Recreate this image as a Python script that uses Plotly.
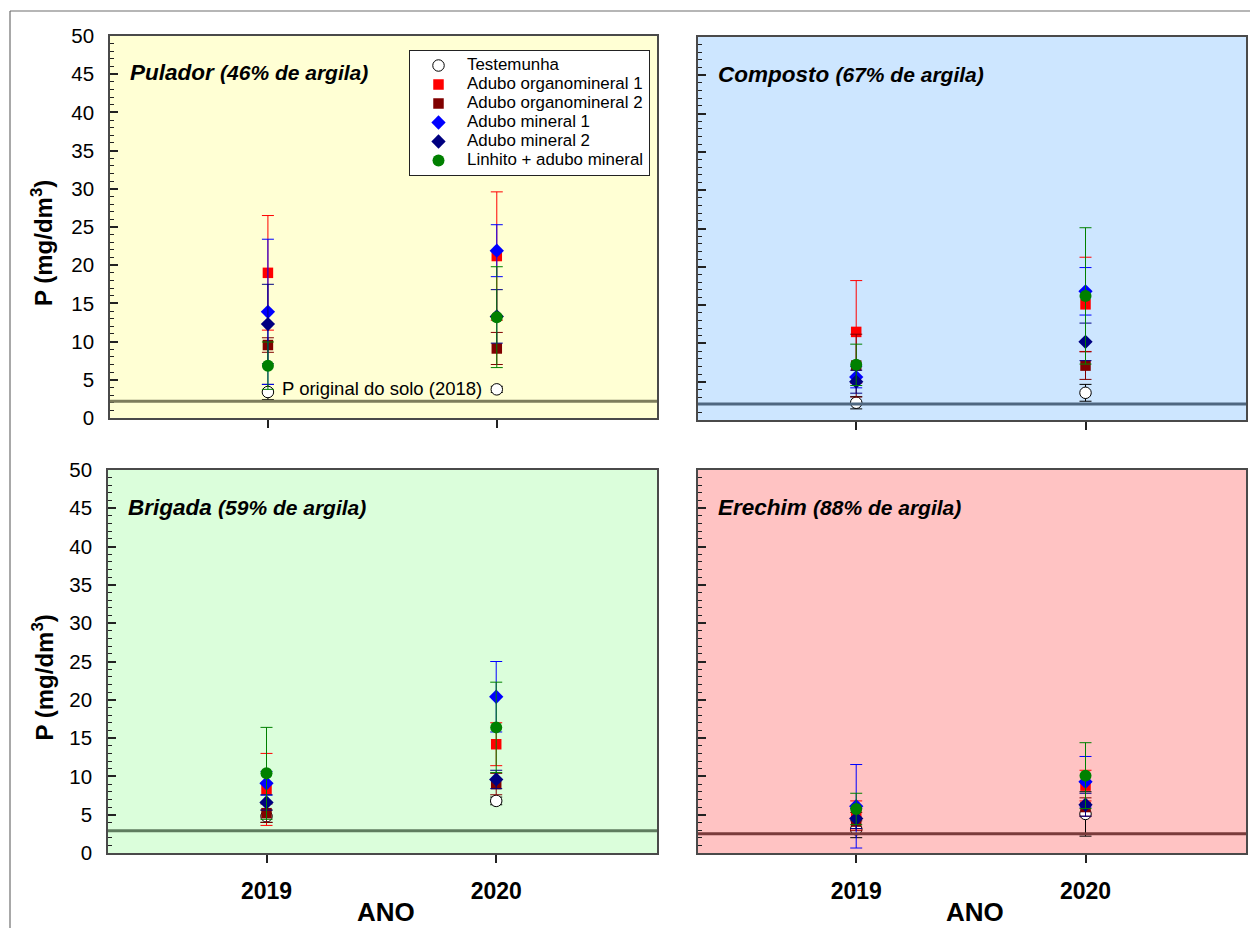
import plotly.graph_objects as go

# ---- data -------------------------------------------------------------
years = [2019, 2020]
tick_labels = ["2019", "2020"]

treatments = [
    "Testemunha",
    "Adubo organomineral 1",
    "Adubo organomineral 2",
    "Adubo mineral 1",
    "Adubo mineral 2",
    "Linhito + adubo mineral",
]

# P (mg/dm3) per site: one [2019, 2020] pair per treatment, plus error half-widths
pulador_mean = [[3.4, 3.75], [19.0, 21.2], [9.55, 9.1], [13.9, 21.9], [12.3, 13.3], [6.85, 13.2]]
pulador_err = [[1.0, 0.4], [7.5, 8.4], [0.95, 2.1], [9.5, 3.4], [5.2, 3.5], [3.1, 6.6]]

composto_mean = [[2.25, 3.55], [11.5, 15.1], [7.1, 7.1], [5.6, 16.8], [5.0, 10.2], [7.2, 16.2]]
composto_err = [[0.8, 1.1], [6.7, 6.15], [4.1, 1.8], [1.4, 3.1], [1.5, 2.45], [2.7, 8.9]]

brigada_mean = [[4.8, 6.8], [8.3, 14.2], [5.2, 9.0], [9.1, 20.4], [6.6, 9.6], [10.4, 16.4]]
brigada_err = [[0.8, 0.5], [4.7, 2.8], [1.2, 1.4], [1.55, 4.6], [1.0, 1.2], [6.0, 5.9]]

erechim_mean = [[3.1, 5.1], [4.9, 8.8], [4.1, 6.0], [6.1, 9.3], [4.5, 6.3], [5.75, 10.1]]
erechim_err = [[1.1, 2.9], [1.9, 2.0], [1.2, 1.2], [5.45, 3.3], [1.3, 1.5], [2.05, 4.3]]

# original soil P (2018) for each site
site_names = ["Pulador", "Composto", "Brigada", "Erechim"]
site_clay = ["(46% de argila)", "(67% de argila)", "(59% de argila)", "(88% de argila)"]
original_p = [2.2, 2.1, 2.9, 2.5]

# ---- styling ----------------------------------------------------------
W, H = 1250, 933
FONT = "Arial, Liberation Sans, sans-serif"

symbols = ["circle", "square", "square", "diamond", "diamond", "circle"]
colors = ["#ffffff", "#ff0000", "#800000", "#0000ff", "#000080", "#008000"]
bar_colors = ["#000000", "#ff0000", "#800000", "#0000ff", "#000080", "#008000"]
sizes = [11.5, 10.5, 10.5, 11, 11, 12]

panel_bg = ["#ffffd4", "#cde6ff", "#dbfedb", "#ffc3c3"]
line_colors = ["#7d7d5c", "#4f6780", "#5f7c5f", "#7a3b3b"]

# panel boxes in pixels: (left, right, top, bottom)
boxes = [
    (110, 657, 36, 418),
    (698, 1246, 37, 420),
    (108, 657, 470, 853),
    (698, 1246, 470, 853),
]


def px_x(v):
    return v / W


def px_y(v):
    return 1 - v / H


means = [pulador_mean, composto_mean, brigada_mean, erechim_mean]
errs = [pulador_err, composto_err, brigada_err, erechim_err]

fig = go.Figure()
shapes = []
annotations = []

for p in range(4):
    ax = "" if p == 0 else str(p + 1)
    xref, yref = "x" + ax, "y" + ax
    for t in range(6):
        fig.add_trace(go.Scatter(
            x=years,
            y=means[p][t],
            mode="markers",
            # legend text is drawn larger than the legend font so rows stay compact
            name="<span style='font-size:16.9px'>%s</span>" % treatments[t],
            legendgroup=treatments[t],
            showlegend=(p == 0),
            xaxis=xref,
            yaxis=yref,
            marker=dict(
                symbol=symbols[t],
                size=sizes[t],
                color=colors[t],
                line=dict(width=1 if t == 0 else 0, color="#000000"),
            ),
            error_y=dict(
                type="data",
                array=errs[p][t],
                visible=True,
                color=bar_colors[t],
                thickness=1,
                width=6,
            ),
        ))

    l, r, tp, bt = boxes[p]
    left_col = p in (0, 2)
    bottom_row = p in (2, 3)
    xa = dict(
        domain=[px_x(l), px_x(r)],
        range=[2018.31, 2020.70],
        tickmode="array",
        tickvals=years,
        ticktext=["<b>%s</b>" % s for s in tick_labels],
        showticklabels=bottom_row,
        ticks="outside",
        ticklen=8,
        tickwidth=1.5,
        tickcolor="#222222",
        ticklabelstandoff=9,
        tickfont=dict(family=FONT, size=23, color="#000000"),
        showline=True,
        linecolor="#4a4a4a",
        linewidth=1.5,
        mirror=True,
        showgrid=False,
        zeroline=False,
        automargin=False,
        anchor=yref,
    )
    ya = dict(
        domain=[px_y(bt), px_y(tp)],
        range=[0, 50],
        tickmode="linear",
        tick0=0,
        dtick=5,
        showticklabels=left_col,
        ticks="inside",
        ticklen=8,
        tickwidth=1.5,
        tickcolor="#222222",
        ticklabelstandoff=10,
        tickfont=dict(family=FONT, size=20.5, color="#000000"),
        minor=dict(dtick=1, ticks="inside", ticklen=4, tickwidth=1, tickcolor="#222222"),
        showline=True,
        linecolor="#4a4a4a",
        linewidth=1.5,
        mirror=True,
        showgrid=False,
        zeroline=False,
        automargin=False,
        anchor=xref,
    )
    fig.update_layout(**{"xaxis" + ax: xa, "yaxis" + ax: ya})

    # panel background
    shapes.append(dict(
        type="rect", xref=xref + " domain", yref=yref + " domain",
        x0=0, x1=1, y0=0, y1=1, fillcolor=panel_bg[p],
        line=dict(width=0), layer="below",
    ))
    # original soil P level
    shapes.append(dict(
        type="line", xref=xref + " domain", yref=yref,
        x0=0, x1=1, y0=original_p[p], y1=original_p[p],
        line=dict(color=line_colors[p], width=3), layer="above",
    ))
    # site title
    annotations.append(dict(
        xref="paper", yref="paper",
        x=px_x(l + 18), y=px_y(tp + 37),
        xanchor="left", yanchor="middle", showarrow=False,
        text="<b><i>%s</i></b> <b><i><span style='font-size:21px'>%s</span></i></b>"
             % (site_names[p], site_clay[p]),
        font=dict(family=FONT, size=22.5, color="#000000"),
    ))
    if left_col:
        annotations.append(dict(
            xref="paper", yref="paper",
            x=px_x(42), y=px_y((tp + bt) / 2 + 16),
            xanchor="center", yanchor="middle", showarrow=False,
            textangle=-90,
            text="<b>P (mg/dm<sup>3</sup>)</b>",
            font=dict(family=FONT, size=24, color="#000000"),
        ))
    if bottom_row:
        annotations.append(dict(
            xref="paper", yref="paper",
            x=px_x((l + r) / 2 + 3), y=px_y(912),
            xanchor="center", yanchor="middle", showarrow=False,
            text="<b>ANO</b>",
            font=dict(family=FONT, size=26, color="#000000"),
        ))

# label for the original soil P line
annotations.append(dict(
    xref="x", yref="y", x=2019.5, y=3.8,
    xanchor="center", yanchor="middle", showarrow=False,
    text="P original do solo (2018)",
    font=dict(family=FONT, size=18.5, color="#000000"),
))

# outer frame lines
shapes.append(dict(type="line", xref="paper", yref="paper",
                   x0=px_x(10), x1=1.01, y0=px_y(11), y1=px_y(11),
                   line=dict(color="#6e6e6e", width=1.2)))
shapes.append(dict(type="line", xref="paper", yref="paper",
                   x0=px_x(10), x1=px_x(10), y0=px_y(11), y1=px_y(928),
                   line=dict(color="#6e6e6e", width=1.2)))

fig.update_layout(
    width=W,
    height=H,
    margin=dict(l=0, r=0, t=0, b=0, pad=0, autoexpand=False),
    paper_bgcolor="#ffffff",
    plot_bgcolor="rgba(0,0,0,0)",
    shapes=shapes,
    annotations=annotations,
    showlegend=True,
    legend=dict(
        x=px_x(650), y=px_y(50),
        xanchor="right", yanchor="top",
        bgcolor="#ffffff",
        bordercolor="#222222",
        borderwidth=1,
        font=dict(family=FONT, size=12, color="#000000"),
        itemwidth=47,
        tracegroupgap=0,
    ),
)

# pin the figure to the page's top-left corner
page_css = (
    "document.documentElement.style.margin='0';"
    "document.body.style.margin='0';"
    "document.body.style.overflow='hidden';"
    "var d=document.getElementById('{plot_id}');"
    "d.style.position='fixed';d.style.left='0px';d.style.top='0px';"
)
fig.write_html("out.html", post_script=page_css)
